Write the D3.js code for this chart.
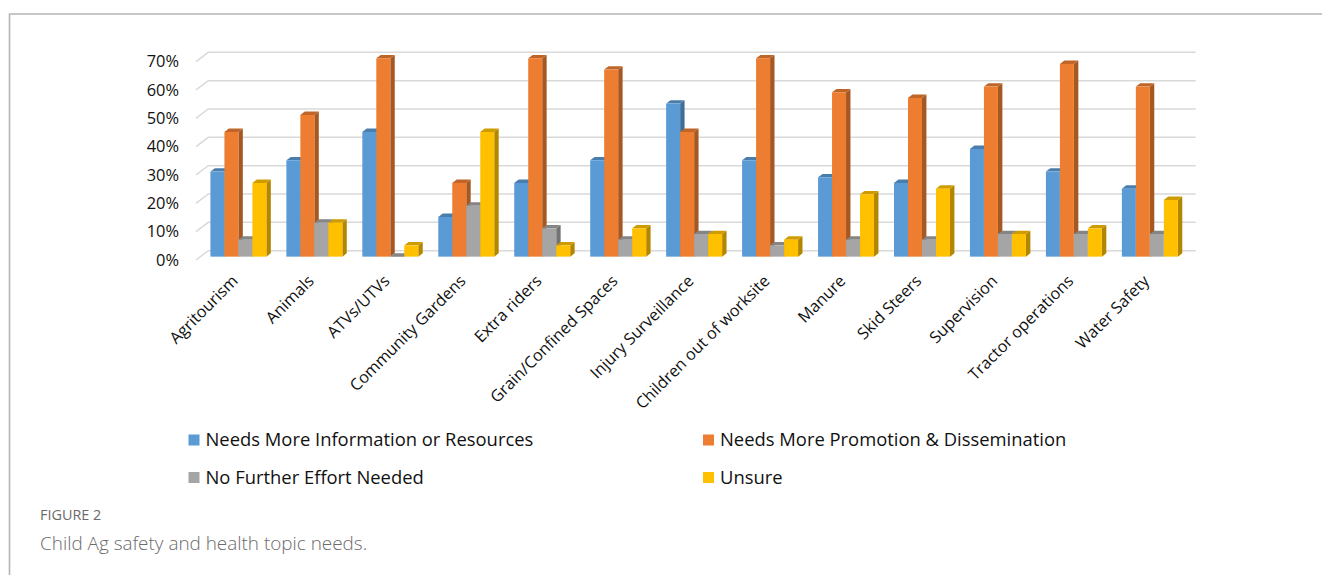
<!DOCTYPE html>
<html>
<head>
<meta charset="utf-8">
<script src="https://cdn.jsdelivr.net/npm/d3@7"></script>
<style>
  html, body { margin: 0; padding: 0; background: #fff; }
  svg { display: block; }
</style>
</head>
<body>
<svg id="chart" width="1322" height="575"></svg>
<script>
// ---- data ----
const categories = ["Agritourism", "Animals", "ATVs/UTVs", "Community Gardens", "Extra riders",
  "Grain/Confined Spaces", "Injury Surveillance", "Children out of worksite", "Manure",
  "Skid Steers", "Supervision", "Tractor operations", "Water Safety"];
const seriesNames = ["Needs More Information or Resources", "Needs More Promotion & Dissemination",
  "No Further Effort Needed", "Unsure"];
const needsInfo      = [30, 34, 44, 14, 26, 34, 54, 34, 28, 26, 38, 30, 24];
const needsPromotion = [44, 50, 70, 26, 70, 66, 44, 70, 58, 56, 60, 68, 60];
const noFurther      = [ 6, 12,  0, 18, 10,  6,  8,  4,  6,  6,  8,  8,  8];
const unsure         = [26, 12,  4, 44,  4, 10,  8,  6, 22, 24,  8, 10, 20];
const yTicks = [0, 10, 20, 30, 40, 50, 60, 70];
const colors = ["#5B9BD5", "#ED7D31", "#A5A5A5", "#FFC000"];

const seriesValues = [needsInfo, needsPromotion, noFurther, unsure];

// ---- layout ----
const svg = d3.select("#chart");
const FONT = "'Open Sans', 'Noto Sans', sans-serif";
const plotL = 196, plotR = 1183.4;
const depth = { x: 12.3, y: -9.3 };       // full floor depth (oblique)
const barF = 0.36, barB = 0.72;            // bar front/back fraction of depth

const x = d3.scaleBand().domain(categories).range([plotL, plotR])
  .paddingInner(0.263).paddingOuter(0.1315);
const xs = d3.scaleBand().domain(d3.range(4)).range([0, x.bandwidth()]);
const y = d3.scaleLinear().domain([0, 70]).range([260, 61.6]);

// frame
svg.append("path").attr("d", "M9.5,575 L9.5,14 L1322,14")
  .attr("fill", "none").attr("stroke", "#b5b5b5").attr("stroke-width", 1.6);

// gridlines (side wall diagonal + back wall)
svg.append("g").selectAll("path").data(yTicks).join("path")
  .attr("d", v => `M${plotL},${y(v)} L${plotL + depth.x},${y(v) + depth.y} L${plotR + depth.x},${y(v) + depth.y}`)
  .attr("fill", "none").attr("stroke", "#d9d9d9").attr("stroke-width", 1.5);

// y axis labels
const yAxis = svg.append("g").attr("transform", "translate(179,0)")
  .call(d3.axisLeft(y).tickValues(yTicks).tickFormat(d => d + "%").tickSize(0).tickPadding(0));
yAxis.select(".domain").remove();
yAxis.selectAll("text").attr("font-family", FONT).attr("font-size", 16.4).attr("fill", "#111");

// bars
const fx = depth.x * barF, fy = depth.y * barF;
const bdx = depth.x * (barB - barF), bdy = depth.y * (barB - barF);
const bars = [];
categories.forEach((c, ci) => {
  seriesValues.forEach((arr, si) => {
    bars.push({ c, si, v: arr[ci] });
  });
});
const gBars = svg.append("g");
bars.forEach(b => {
  const x0 = x(b.c) + xs(b.si) + fx;
  const w = xs.bandwidth();
  const yTop = y(b.v) + fy, yBase = y(0) + fy;
  const col = d3.color(colors[b.si]);
  const g = gBars.append("g");
  // side
  g.append("path")
    .attr("d", `M${x0 + w},${yBase} L${x0 + w + bdx},${yBase + bdy} L${x0 + w + bdx},${yTop + bdy} L${x0 + w},${yTop} Z`)
    .attr("fill", col.darker(1.0).formatHex());
  // top
  g.append("path")
    .attr("d", `M${x0},${yTop} L${x0 + bdx},${yTop + bdy} L${x0 + w + bdx},${yTop + bdy} L${x0 + w},${yTop} Z`)
    .attr("fill", col.darker(0.6).formatHex());
  // front
  g.append("rect").attr("x", x0).attr("y", yTop).attr("width", w).attr("height", Math.max(0, yBase - yTop))
    .attr("fill", colors[b.si]);
});

// category labels
svg.append("g").selectAll("text").data(categories).join("text")
  .attr("transform", c => `translate(${x(c) + x.bandwidth() / 2 + fx + 0.5},282) rotate(-45)`)
  .attr("text-anchor", "end")
  .attr("font-family", FONT).attr("font-size", 16.2).attr("fill", "#111")
  .text(c => c);

// legend
const legendPos = [[188.5, 440], [703, 440], [188.5, 477.5], [703, 477.5]];
const lg = svg.append("g").selectAll("g").data(seriesNames).join("g")
  .attr("transform", (d, i) => `translate(${legendPos[i][0]},${legendPos[i][1]})`);
lg.append("rect").attr("x", 0).attr("y", -5.5).attr("width", 11).attr("height", 11)
  .attr("fill", (d, i) => colors[i]);
lg.append("text").attr("x", 17).attr("y", 0).attr("dy", "0.35em")
  .attr("font-family", FONT).attr("font-size", 18.4).attr("fill", "#111")
  .text(d => d);

// caption
svg.append("text").attr("x", 40).attr("y", 519.5)
  .attr("font-family", FONT).attr("font-size", 14.4).attr("fill", "#6b6b6b").attr("font-weight", 500)
  .text("FIGURE 2");
svg.append("text").attr("x", 40).attr("y", 549.5)
  .attr("font-family", FONT).attr("font-size", 18.9).attr("fill", "#6b6b6b").attr("font-weight", 300)
  .text("Child Ag safety and health topic needs.");
</script>
</body>
</html>
